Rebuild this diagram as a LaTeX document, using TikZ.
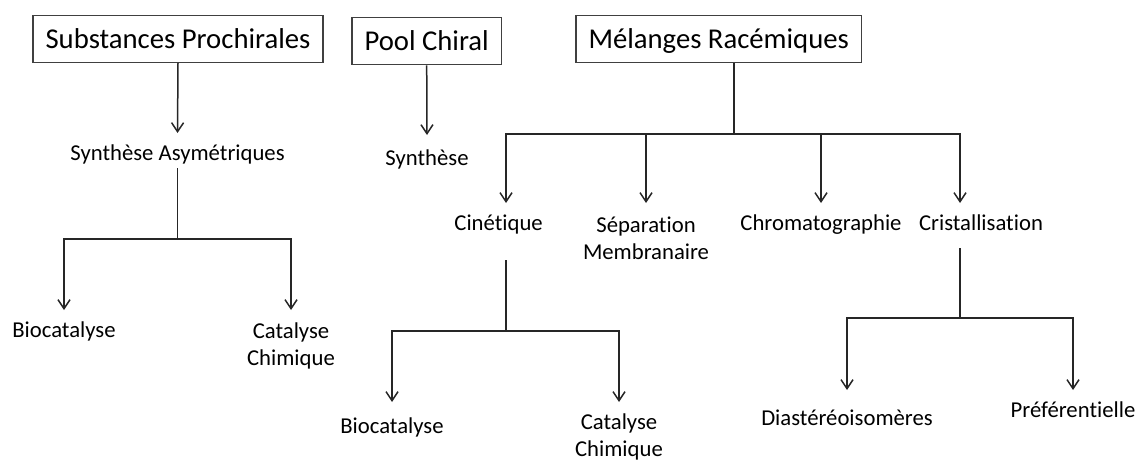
\documentclass[tikz,border=0pt]{standalone}
\usepackage{fontspec}
\setmainfont{Carlito}[Ligatures=NoCommon]
\usepackage{xcolor}
\usetikzlibrary{arrows.meta}

\tikzset{
  titlebox/.style={draw=black!75, line width=1.3pt, font=\fontsize{28.7}{34}\selectfont,
    text height=18.4pt, text depth=0pt, minimum height=47pt, inner xsep=12.5pt, inner ysep=0pt},
  item/.style={font=\fontsize{22.7}{27.5}\selectfont, anchor=north,
    text height=14.5pt, text depth=4.5pt, inner xsep=2pt, inner ysep=13pt},
  twoline/.style={font=\fontsize{22.7}{27}\selectfont, anchor=north, align=center,
    inner xsep=2pt, inner ysep=12.5pt},
  link/.style={draw=black!85, line width=1.5pt},
  arr/.style={link, -{Straight Barb[length=9pt,width=12pt]}}
}

\begin{document}
\begin{tikzpicture}[x=1pt,y=-1pt]
\useasboundingbox (0,0) rectangle (1137,463);
%% the three starting points, boxed
\node[titlebox] (subst) at (178,38.8) {Substances Prochirales};
\node[titlebox] (pool) at (426.7,41.2) {Pool Chiral};
\node[titlebox] (melanges) at (718.7,39.3) {Mélanges Racémiques};
%% first branch
\node[item] (synasym) at (177.5,133) {Synthèse Asymétriques};
\node[item] (bio1) at (64,310) {Biocatalyse};
\node[twoline] (catchim1) at (291,310) {Catalyse\\Chimique};
%% second branch
\node[item, inner ysep=16pt] (synth) at (427,135) {Synthèse};
%% third branch
\node[item] (cin) at (498.6,203) {Cinétique};
\node[twoline, inner ysep=13.5pt] (sep) at (646,203) {Séparation\\Membranaire};
\node[item] (chrom) at (821,203) {Chromatographie};
\node[item] (crist) at (981,203) {Cristallisation};
\node[item, inner ysep=17pt] (bio2) at (392,402) {Biocatalyse};
\node[twoline, inner ysep=12pt] (catchim2) at (619,402) {Catalyse\\Chimique};
\node[item, inner ysep=21pt] (diast) at (847,390) {Diastéréoisomères};
\node[item] (pref) at (1073,390) {Préférentielle};
%% where the lines split
\coordinate (j1) at (177.5,239);
\coordinate (j2) at (734,134);
\coordinate (j3) at (506,331);
\coordinate (j4) at (960,318);
%% connectors
\draw[arr] (subst.south) -- (synasym.north);
\draw[link, shorten <=-10pt] (synasym.south) -- (j1);
\draw[arr] (j1) -| (bio1.north);
\draw[arr] (j1) -| (catchim1.north);
\draw[arr] (pool.south) -- (synth.north);
\draw[link] (melanges.south -| j2) -- (j2);
\draw[arr] (j2) -| ([xshift=7.4pt]cin.north);
\draw[arr] (j2) -| (sep.north);
\draw[arr] (j2) -| (chrom.north);
\draw[arr] (j2) -| ([xshift=-21pt]crist.north);
\draw[link, shorten <=12pt] (cin.south -| j3) -- (j3);
\draw[arr] (j3) -| (bio2.north);
\draw[arr] (j3) -| (catchim2.north);
\draw[link] (crist.south -| j4) -- (j4);
\draw[arr] (j4) -| (diast.north);
\draw[arr] (j4) -| (pref.north);
\end{tikzpicture}
\end{document}
